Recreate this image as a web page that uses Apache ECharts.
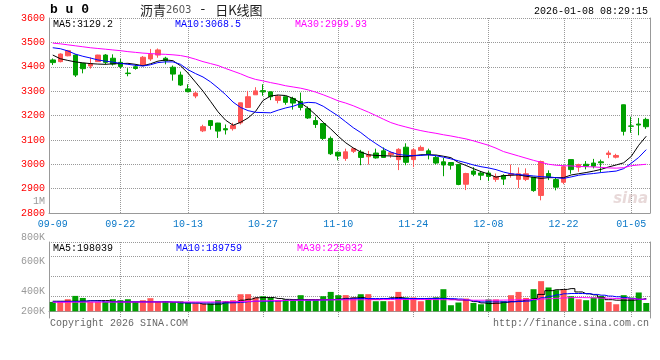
<!DOCTYPE html>
<html><head><meta charset="utf-8">
<script src="https://cdn.jsdelivr.net/npm/echarts@6/dist/echarts.min.js"></script>
<style>html,body{margin:0;padding:0;background:#fff}#c{width:660px;height:360px}</style>
</head><body><div id="c"></div>
<script>
const dates = ['09-09','09-10','09-11','09-12','09-15','09-16','09-17','09-18','09-19','09-22','09-23','09-24','09-25','09-26','09-29','09-30',
'10-09','10-10','10-13','10-14','10-15','10-16','10-17','10-20','10-21','10-22','10-23','10-24','10-27','10-28','10-29','10-30','10-31',
'11-03','11-04','11-05','11-06','11-07','11-10','11-11','11-12','11-13','11-14','11-17','11-18','11-19','11-20','11-21','11-24','11-25','11-26','11-27','11-28',
'12-01','12-02','12-03','12-04','12-05','12-08','12-09','12-10','12-11','12-12','12-15','12-16','12-17','12-18','12-19','12-22','12-23','12-24','12-25','12-26','12-29','12-30','12-31',
'01-05','01-06','01-07','01-08'];
const opens = [3428,3421,3445,3448,3414,3403,3421,3448,3435,3418,3374,3400,3407,3432,3448,3435,3398,3366,3309,3280,
3137,3179,3169,3146,3146,3170,3233,3285,3302,3297,3262,3277,3270,3258,3228,3179,3167,3106,3049,3024,
3053,3050,3031,3046,3055,3039,3019,3070,3019,3057,3055,3028,3010,3007,2999,2918,2972,2964,2964,2938,
2954,2956,2938,2938,2947,2872,2962,2937,2926,3019,2988,3000,3005,3010,3040,3029,3244,3157,3165,3184];
const closes = [3417,3452,3466,3366,3392,3412,3448,3418,3411,3401,3372,3393,3439,3451,3469,3425,3370,3325,3298,3292,
3154,3159,3136,3141,3159,3252,3277,3301,3297,3277,3279,3254,3251,3233,3190,3163,3106,3043,3034,3051,
3064,3028,3039,3026,3028,3047,3061,3008,3059,3069,3040,3005,2997,2996,2917,2962,2959,2955,2950,2950,
2939,2961,2961,2961,2892,3011,2948,2906,2990,2978,2999,2992,2992,3006,3046,3036,3135,3156,3161,3154];
const lows = [3407,3418,3443,3358,3373,3392,3420,3409,3405,3392,3361,3388,3404,3424,3437,3410,3343,3321,3295,3271,
3132,3142,3108,3122,3138,3163,3233,3285,3281,3263,3250,3244,3224,3221,3186,3149,3099,3038,3016,3014,
3046,2996,2999,3023,3026,3026,2976,2996,2988,3057,3020,2999,2951,2978,2914,2894,2951,2935,2931,2928,
2915,2945,2902,2931,2887,2852,2935,2893,2918,2961,2969,2979,2983,2968,3025,3024,3118,3129,3119,3145];
const highs = [3434,3455,3469,3451,3415,3438,3449,3452,3451,3432,3394,3410,3444,3473,3475,3441,3405,3380,3328,3298,
3162,3181,3170,3163,3170,3253,3301,3316,3328,3299,3285,3279,3277,3294,3237,3195,3168,3114,3052,3064,
3066,3059,3055,3064,3069,3053,3066,3086,3066,3077,3064,3036,3026,3009,3001,2965,2988,2972,2972,2962,
2959,2999,2987,2983,2948,3015,2975,2945,2996,3020,3002,3013,3022,3019,3056,3043,3245,3195,3190,3191];
const ma5 = [3448,3433,3426,3420,3416,3413,3411,3410,3412,3413,3414,3410,3404,3412,3423,3428,3425,3404,3374,3337,
3300,3258,3215,3181,3160,3172,3190,3217,3262,3280,3284,3282,3270,3252,3230,3203,3172,3145,3115,3088,
3067,3050,3039,3036,3035,3034,3032,3031,3035,3039,3039,3038,3033,3027,3007,2995,2982,2970,2960,2947,
2953,2955,2956,2951,2946,2942,2945,2945,2945,2956,2961,2966,2972,2979,2989,2997,3006,3032,3078,3115];
const ma10 = [3478,3474,3465,3452,3443,3436,3428,3423,3419,3414,3410,3406,3403,3408,3417,3420,3420,3410,3388,3372,
3358,3338,3313,3286,3255,3233,3220,3213,3212,3211,3222,3231,3238,3249,3254,3252,3238,3218,3198,3174,
3150,3130,3106,3085,3065,3050,3040,3037,3035,3036,3039,3035,3029,3022,3014,3006,2997,2990,2985,2978,
2968,2961,2958,2955,2952,2949,2948,2945,2942,2948,2955,2959,2962,2966,2969,2972,2982,3004,3028,3060];
const ma30 = [3497,3494,3490,3486,3482,3478,3475,3472,3469,3466,3462,3459,3456,3454,3452,3451,3449,3446,3440,3431,
3421,3413,3405,3393,3382,3371,3358,3348,3342,3335,3329,3322,3317,3312,3305,3296,3285,3273,3260,3251,
3240,3227,3214,3200,3185,3171,3161,3153,3145,3138,3132,3127,3121,3116,3110,3104,3096,3087,3078,3066,
3052,3043,3034,3025,3016,3008,3000,2996,2994,2993,2991,2990,2989,2987,2985,2984,2986,2994,2997,3000];
const volumes = [145000,146000,187000,239000,207000,145000,144000,146000,187000,172000,187000,145000,172000,203000,145000,156000,145000,156000,136000,120000,
120000,121000,172000,156000,172000,265000,266000,214000,234000,214000,172000,187000,188000,250000,172000,173000,234000,301000,250000,251000,
214000,265000,266000,156000,157000,156000,301000,214000,215000,156000,187000,214000,343000,94000,136000,198000,129000,109000,183000,184000,
156000,250000,301000,207000,343000,468000,370000,328000,339000,234000,187000,172000,214000,239000,145000,109000,250000,214000,292000,129000];
const volMa5 = [156000,156000,156000,156000,158000,164000,166000,166000,150000,146000,146000,146000,146000,146000,146000,146000,140000,132000,130000,128000,
112000,109000,112000,140000,146000,172000,187000,210000,213000,213000,198000,185000,182000,182000,182000,182000,182000,182000,190000,200000,
208000,213000,185000,182000,195000,210000,213000,200000,192000,195000,200000,203000,200000,185000,175000,168000,150000,130000,120000,125000,
138000,150000,160000,175000,198000,262000,320000,335000,340000,352000,300000,272000,255000,215000,180000,172000,172000,172000,185000,198000];
const volMa10 = [146000,148000,150000,152000,156000,161000,158000,146000,146000,146000,146000,146000,146000,146000,146000,146000,144000,132000,130000,130000,
130000,130000,130000,130000,132000,140000,150000,156000,156000,158000,160000,170000,172000,172000,172000,172000,175000,180000,185000,190000,
195000,198000,198000,198000,198000,198000,198000,198000,198000,198000,198000,198000,198000,196000,190000,175000,160000,146000,146000,146000,
146000,148000,152000,158000,180000,210000,234000,255000,272000,276000,276000,274000,262000,250000,236000,225000,212000,198000,185000,185000];
const volMa30 = [140000,140000,141000,141000,142000,142000,142000,143000,143000,143000,143000,143000,143000,144000,144000,144000,144000,144000,144000,144000,
144000,145000,146000,148000,150000,152000,155000,158000,162000,165000,168000,170000,172000,173000,174000,175000,176000,177000,178000,178000,
178000,179000,180000,181000,182000,182000,182000,182000,182000,182000,182000,181000,180000,178000,176000,174000,172000,172000,172000,172000,
174000,176000,178000,180000,184000,190000,196000,202000,208000,212000,213000,211000,208000,205000,202000,198000,195000,192000,188000,187000];

const tickIdx = [0, 9, 18, 28, 38, 48, 58, 68, 77];
const tickLabels = ['09-09','09-22','10-13','10-27','11-10','11-24','12-08','12-22','01-05'];
const gridIdx = [9, 18, 28, 38, 48, 58, 68, 77];
const priceMin = 2800, priceMax = 3600, priceStep = 100;
const volMin = -104500, volMax = 1076400;
const volGridValues = [239000, 551000, 863000, 1076400];
const volTickLabels = ['800K', '600K', '400K', '200K'];
const extraPriceLabel = '1M';
const priceLegend = ['MA5:3129.2', 'MA10:3068.5', 'MA30:2999.93'];
const volLegend = ['MA5:198039', 'MA10:189759', 'MA30:225032'];
const titleName = '沥青', titleCode = '2603', titleDash = '-', titleTail = '日K线图';
const symbolText = 'b u 0';
const stamp = '2026-01-08 08:29:15';
const copyright = 'Copyright 2026 SINA.COM';
const siteUrl = 'http://finance.sina.com.cn';

const RED = '#ff5555', GREEN = '#00a000';
const MONO = '"Liberation Mono", "DejaVu Sans Mono", monospace';
const GRIDC = '#999999';
const kData = opens.map((o, i) => [o, closes[i], lows[i], highs[i]]);
const dotted = { color: GRIDC, width: 1, type: [1, 1] };
const dotStyle = { stroke: GRIDC, lineWidth: 1, lineDash: [1, 1], fill: null };

const chart = echarts.init(document.getElementById('c'), null, { renderer: 'canvas' });
const txt = (x, y, text, fill, extra) => ({ type: 'text', x, y, silent: true, z: 100,
  style: Object.assign({ text, fill, font: '10px ' + MONO, verticalAlign: 'middle' }, extra || {}) });

// vertical dotted guides at the tick categories (positions come from the category scale)
const vGuide = (xi, yi, yRef) => ({
  type: 'custom', xAxisIndex: xi, yAxisIndex: yi, silent: true, z: 1, clip: false,
  data: gridIdx.map(i => [i, yRef]), encode: { x: 0, y: 1 },
  renderItem: (params, api) => {
    const cs = params.coordSys;
    const x = Math.round(api.coord([api.value(0), api.value(1)])[0]) + 0.5;
    return { type: 'line', shape: { x1: x, y1: cs.y, x2: x, y2: cs.y + cs.height }, style: dotStyle };
  } });
// horizontal dotted guides in the volume panel (positions from the volume scale)
const hGuide = {
  type: 'custom', xAxisIndex: 1, yAxisIndex: 2, silent: true, z: 1, clip: false,
  data: volGridValues.map(v => [0, v]), encode: { x: 0, y: 1 },
  renderItem: (params, api) => {
    const cs = params.coordSys;
    const y = Math.round(api.coord([api.value(0), api.value(1)])[1]) + 0.5;
    return { type: 'line', shape: { x1: cs.x, y1: y, x2: cs.x + cs.width, y2: y }, style: dotStyle };
  } };

chart.setOption({
  animation: false,
  backgroundColor: '#fff',
  grid: [
    { left: 49, right: 10, top: 18, height: 195 },
    { left: 49, right: 10, top: 242, height: 76 }
  ],
  xAxis: [
    { type: 'category', gridIndex: 0, data: dates, boundaryGap: true,
      axisLine: { show: true, lineStyle: { color: '#999', width: 1 } },
      axisTick: { show: false }, splitLine: { show: false },
      axisLabel: { color: '#0a78c8', fontFamily: MONO, fontSize: 10, margin: 6,
        interval: (idx) => tickIdx.indexOf(idx) >= 0,
        formatter: (v, idx) => { const k = tickIdx.indexOf(idx); return k >= 0 ? tickLabels[k] : ''; } } },
    { type: 'category', gridIndex: 1, data: dates, boundaryGap: true,
      axisLine: { show: true, lineStyle: { color: '#999', width: 1 } },
      axisTick: { show: false }, axisLabel: { show: false }, splitLine: { show: false } }
  ],
  yAxis: [
    { type: 'value', gridIndex: 0, min: priceMin, max: priceMax, interval: priceStep,
      axisLine: { show: true, lineStyle: { color: '#999', width: 1 } }, axisTick: { show: false },
      axisLabel: { color: '#ff0000', fontFamily: MONO, fontSize: 10, margin: 4, formatter: (v) => String(v) },
      splitLine: { show: true, lineStyle: dotted } },
    { type: 'value', gridIndex: 0, position: 'right', min: priceMin, max: priceMax, interval: priceStep,
      axisLine: { show: true, lineStyle: { color: '#999', width: 1 } }, axisTick: { show: false },
      axisLabel: { show: false }, splitLine: { show: false } },
    { type: 'value', gridIndex: 1, min: volMin, max: volMax,
      axisLine: { show: true, lineStyle: { color: '#999', width: 1 } }, axisTick: { show: false },
      axisLabel: { show: false }, splitLine: { show: false } },
    { type: 'value', gridIndex: 1, position: 'right', min: volMin, max: volMax,
      axisLine: { show: true, lineStyle: { color: '#999', width: 1 } }, axisTick: { show: false },
      axisLabel: { show: false }, splitLine: { show: false } }
  ],
  series: [
    vGuide(0, 0, priceMin),
    vGuide(1, 2, 0),
    hGuide,
    { type: 'candlestick', xAxisIndex: 0, yAxisIndex: 0, data: kData, barWidth: 5, z: 3,
      itemStyle: { color: RED, color0: GREEN, borderColor: RED, borderColor0: GREEN, borderWidth: 1 } },
    { type: 'line', name: 'MA5', xAxisIndex: 0, yAxisIndex: 0, data: ma5, showSymbol: false, z: 5,
      lineStyle: { color: '#000', width: 1 } },
    { type: 'line', name: 'MA10', xAxisIndex: 0, yAxisIndex: 0, data: ma10, showSymbol: false, z: 5,
      lineStyle: { color: '#0000ff', width: 1 } },
    { type: 'line', name: 'MA30', xAxisIndex: 0, yAxisIndex: 0, data: ma30, showSymbol: false, z: 5,
      lineStyle: { color: '#ff00ff', width: 1 } },
    { type: 'bar', xAxisIndex: 1, yAxisIndex: 2, data: volumes, barWidth: 6, z: 3,
      itemStyle: { color: (p) => closes[p.dataIndex] >= opens[p.dataIndex] ? RED : GREEN } },
    { type: 'line', xAxisIndex: 1, yAxisIndex: 2, data: volMa5, showSymbol: false, step: 'middle', z: 5,
      lineStyle: { color: '#000', width: 1 } },
    { type: 'line', xAxisIndex: 1, yAxisIndex: 2, data: volMa10, showSymbol: false, step: 'middle', z: 5,
      lineStyle: { color: '#0000ff', width: 1 } },
    { type: 'line', xAxisIndex: 1, yAxisIndex: 2, data: volMa30, showSymbol: false, step: 'middle', z: 5,
      lineStyle: { color: '#ff00ff', width: 1 } }
  ],
  graphic: [
    txt(50, 10, symbolText, '#000', { font: 'bold 13px ' + MONO }),
    { type: 'text', x: 140, y: 10, silent: true, z: 100,
      style: { text: '{a|' + titleName + '}{b|' + titleCode + '}{d|' + titleDash + '}{a|' + titleTail + '}', verticalAlign: 'middle',
        rich: { a: { fontSize: 13, fontFamily: '"Noto Sans CJK SC", sans-serif', fill: '#222', color: '#222' },
                b: { fontSize: 10, fontFamily: '"DejaVu Sans", sans-serif', fill: '#555', color: '#555' },
                d: { fontSize: 13, fontFamily: '"DejaVu Sans", sans-serif', fill: '#222', color: '#222', padding: [0, 10, 0, 9] } } } },
    txt(648, 11, stamp, '#000', { align: 'right' }),
    txt(53, 24, priceLegend[0], '#000'),
    txt(175, 24, priceLegend[1], '#0000ff'),
    txt(295, 24, priceLegend[2], '#ff00ff'),
    txt(53, 248, volLegend[0], '#000'),
    txt(176, 248, volLegend[1], '#0000ff'),
    txt(297, 248, volLegend[2], '#ff00ff'),
    txt(45, 201, extraPriceLabel, '#999', { align: 'right' }),
    txt(45, 237, volTickLabels[0], '#999', { align: 'right' }),
    txt(45, 261, volTickLabels[1], '#999', { align: 'right' }),
    txt(45, 291, volTickLabels[2], '#999', { align: 'right' }),
    txt(45, 311, volTickLabels[3], '#999', { align: 'right' }),
    txt(50, 323, copyright, '#666'),
    txt(649, 323, siteUrl, '#666', { align: 'right' }),
    txt(648, 199, 'sina', 'rgba(205,170,170,0.45)', { align: 'right', font: 'italic bold 15px "DejaVu Sans", sans-serif' })
  ]
});
</script></body></html>
